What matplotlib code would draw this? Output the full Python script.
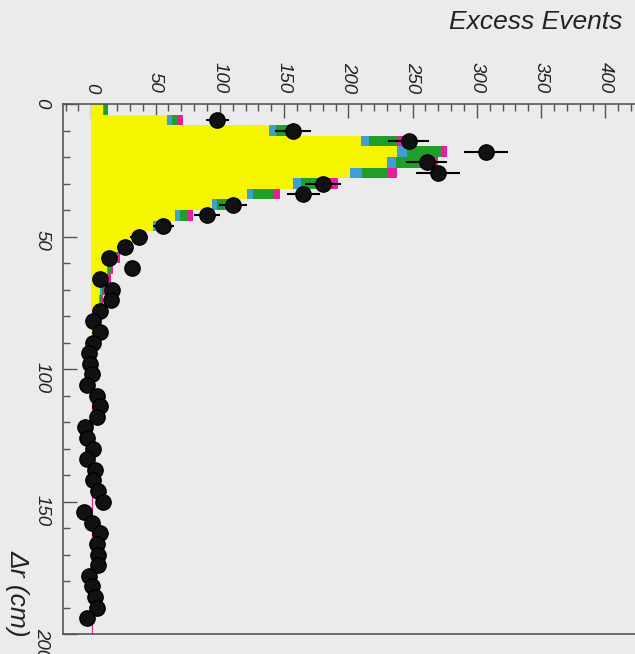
import matplotlib
matplotlib.use("Agg")
import matplotlib.pyplot as plt
from matplotlib.ticker import MultipleLocator

# ---- data ----
bin_centers = [2, 6, 10, 14, 18, 22, 26, 30, 34, 38, 42, 46, 50, 54, 58, 62, 66, 70, 74, 78,
               82, 86, 90, 94, 98, 102, 106, 110, 114, 118, 122, 126, 130, 134, 138, 142, 146,
               150, 154, 158, 162, 166, 170, 174, 178, 182, 186, 190, 194, 198]
yellow = [9, 59, 138, 210, 238, 230, 201, 157, 121, 94, 65, 48, 33, 22, 16, 12, 10, 7, 6, 4,
          3, 2, 1.5, 1, 1, 0.5, 0.5, 0.5, 0.5, 0.5, 0.5, 0.5, 0.5, 0.5, 0.5, 0.5, 0.5,
          0.5, 0.3, 0.3, 0.3, 0.3, 0.3, 0.3, 0.3, 0.3, 0.3, 0.3, 0.3, 0.3]
cyan = [1, 4, 6, 6, 8, 7, 10, 6, 5, 4, 4, 3, 2, 2, 1, 1, 1, 1, 0.5, 0.5,
        0.5, 0.3, 0.2, 0.2, 0.2, 0.1, 0.1, 0.1, 0.1, 0.1, 0.1, 0.1, 0.1, 0.1, 0.1, 0.1, 0.1,
        0.1, 0.1, 0.1, 0.1, 0.1, 0.1, 0.1, 0.1, 0.1, 0.1, 0.1, 0.1, 0.1]
green = [2, 4, 11, 22, 26, 29, 19, 18, 16, 8, 6.5, 4, 4, 3, 3, 2, 2, 2, 1.5, 1,
         1, 0.7, 0.5, 0.5, 0.4, 0.3, 0.3, 0.3, 0.3, 0.3, 0.3, 0.3, 0.3, 0.3, 0.3, 0.3, 0.3,
         0.3, 0.3, 0.3, 0.3, 0.3, 0.3, 0.3, 0.3, 0.3, 0.3, 0.3, 0.3, 0.3]
magenta = [1, 4, 2, 5, 5, 4, 8, 11, 5, 2, 3.5, 2, 3, 2, 2, 2, 2, 1, 1, 1,
           1, 0.8, 0.8, 0.8, 0.8, 0.8, 0.8, 0.8, 0.8, 0.8, 0.8, 0.8, 0.8, 0.8, 0.8, 0.8, 0.8,
           0.8, 0.7, 0.7, 0.7, 0.7, 0.7, 0.7, 0.7, 0.6, 0.6, 0.6, 0.6, 0.6]

data_r = [6, 10, 14, 18, 22, 26, 30, 34, 38, 42, 46, 50, 54, 58, 62, 66, 70, 74, 78, 82,
          86, 90, 94, 98, 102, 106, 110, 114, 118, 122, 126, 130, 134, 138, 142, 146, 150,
          154, 158, 162, 166, 170, 174, 178, 182, 186, 190, 194]
data_v = [98, 157, 247, 307, 261, 270, 180, 165, 110, 90, 56, 37, 26, 14, 32, 7, 16, 15, 7, 1,
          7, 1, -2, -1, 0.5, -3, 4.5, 7, 4.5, -5, -3, 1.5, -3, 3, 1.5, 5.5, 9,
          -6, 0.5, 7, 4.5, 5.5, 5.5, -2, 0.5, 3, 4.5, -3]
data_err = [9, 14, 16, 17, 16, 17, 14, 13, 11, 10, 8, 7, 6, 5, 6, 5, 5, 5, 5, 5,
            5, 5, 5, 5, 5, 5, 5, 5, 5, 5, 5, 5, 5, 5, 5, 5, 5,
            5, 5, 5, 5, 5, 5, 5, 5, 5, 5, 5]

bin_width = 4
bg = "#ecebec"

fig = plt.figure(figsize=(6.35, 6.54), dpi=100, facecolor=bg)
ax = fig.add_axes([63 / 635, 1 - 634 / 654, (635 - 63) / 635, (634 - 104) / 654])
ax.set_facecolor(bg)

left = [0.0] * len(bin_centers)
for vals, col in [(yellow, "#f5f500"), (cyan, "#3f9fd2"), (green, "#1f9e2a"), (magenta, "#e81e9c")]:
    ax.barh(bin_centers, vals, height=bin_width, left=left, color=col, linewidth=0, zorder=2)
    left = [l + v for l, v in zip(left, vals)]

ax.errorbar(data_v, data_r, xerr=data_err, fmt="o", color="black", ms=11,
            mfc="#111111", mec="black", elinewidth=1.5, capsize=0, zorder=5)

ax.set_xlim(-22, 423)
ax.set_ylim(200, 0)

ax.xaxis.tick_top()
ax.xaxis.set_major_locator(MultipleLocator(50))
ax.xaxis.set_minor_locator(MultipleLocator(10))
ax.yaxis.set_major_locator(MultipleLocator(50))
ax.yaxis.set_minor_locator(MultipleLocator(10))
ax.tick_params(axis="both", which="major", direction="in", length=10, width=1, color="#555555")
ax.tick_params(axis="both", which="minor", direction="in", length=5, width=1, color="#555555")
ax.tick_params(axis="x", which="both", top=True, bottom=False, pad=8, labelrotation=270)
ax.tick_params(axis="y", which="both", left=True, right=False, pad=9, labelrotation=270)

for lab in ax.get_xticklabels() + ax.get_yticklabels():
    lab.set_fontfamily("Liberation Sans")
    lab.set_fontstyle("italic")
    lab.set_fontsize(13.5)
    lab.set_color("#222222")

for s in ["left", "top", "bottom"]:
    ax.spines[s].set_color("#555555")
    ax.spines[s].set_linewidth(1.2)
ax.spines["right"].set_visible(False)

fig.text(622 / 635, 1 - 22 / 654, "Excess Events", ha="right", va="center",
         fontfamily="Liberation Sans", fontstyle="italic", fontsize=19, color="#222222")
fig.text(18 / 635, 1 - 637 / 654, "\u0394r (cm)", ha="center", va="bottom", rotation=270,
         fontfamily="Liberation Sans", fontstyle="italic", fontsize=19, color="#222222")

fig.savefig("out.png", dpi=100, facecolor=bg)
